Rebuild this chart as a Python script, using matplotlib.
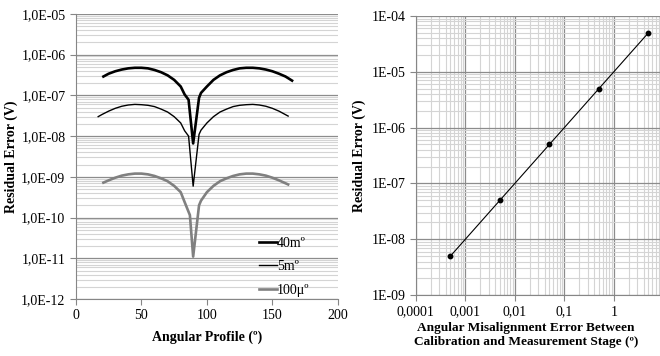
import numpy as np
import matplotlib.pyplot as plt
from matplotlib.ticker import LogLocator, FuncFormatter, NullFormatter, MultipleLocator

# left panel: residual error along the angular profile
ang_40m = [21, 25, 30, 35, 40, 45, 50, 55, 60, 65, 70, 75, 80, 83, 86, 89.5,
           94, 95.5, 100, 105, 110, 115, 120, 125, 130, 135, 140, 145, 150, 155, 160, 165]
err_40m = [2.9e-7, 3.4e-7, 3.9e-7, 4.3e-7, 4.6e-7, 4.75e-7, 4.75e-7, 4.6e-7, 4.2e-7, 3.7e-7,
           3.1e-7, 2.4e-7, 1.65e-7, 1.05e-7, 7.8e-8, 6.6e-9,
           8.7e-8, 1.15e-7, 1.65e-7, 2.4e-7, 3.1e-7, 3.7e-7, 4.2e-7, 4.6e-7, 4.75e-7, 4.75e-7,
           4.6e-7, 4.3e-7, 3.9e-7, 3.4e-7, 2.9e-7, 2.3e-7]

ang_5m = [17, 20, 25, 30, 35, 40, 45, 50, 55, 60, 65, 70, 75, 80, 83, 86, 89.5,
          94, 95.5, 100, 105, 110, 115, 120, 125, 130, 135, 140, 145, 150, 155, 162]
err_5m = [3.0e-8, 3.4e-8, 4.1e-8, 4.8e-8, 5.4e-8, 5.8e-8, 6.0e-8, 5.9e-8, 5.7e-8, 5.3e-8,
          4.6e-8, 3.9e-8, 3.0e-8, 2.1e-8, 1.35e-8, 1.0e-8, 5.9e-10,
          1.1e-8, 1.4e-8, 2.1e-8, 3.0e-8, 3.9e-8, 4.6e-8, 5.3e-8, 5.7e-8, 5.9e-8, 6.0e-8,
          5.8e-8, 5.4e-8, 4.8e-8, 4.1e-8, 3.1e-8]

ang_100u = [21, 25, 30, 35, 40, 45, 50, 55, 60, 65, 70, 75, 80, 83, 87, 89.5,
            94, 95.5, 100, 105, 110, 115, 120, 125, 130, 135, 140, 145, 150, 155, 162]
err_100u = [7.2e-10, 8.2e-10, 9.5e-10, 1.07e-9, 1.15e-9, 1.2e-9, 1.2e-9, 1.15e-9, 1.05e-9,
            9.2e-10, 7.8e-10, 6.0e-10, 4.2e-10, 2.4e-10, 1.15e-10, 1.1e-11,
            2.0e-10, 2.6e-10, 4.2e-10, 6.0e-10, 7.8e-10, 9.2e-10, 1.05e-9, 1.15e-9, 1.2e-9,
            1.2e-9, 1.15e-9, 1.07e-9, 9.5e-10, 8.2e-10, 6.5e-10]

# right panel: residual error vs misalignment
misalign = [0.0005, 0.005, 0.05, 0.5, 5]
resid = [5e-9, 5e-8, 5e-7, 5e-6, 5e-5]
x_ticks = [0.0001, 0.001, 0.01, 0.1, 1]
x_tick_labels = ["0,0001", "0,001", "0,01", "0,1", "1"]

MAJ = "#8c8c8c"
MIN = "#d4d4d4"
SPINE = "#868686"

plt.rcParams["font.family"] = ["Liberation Serif", "DejaVu Serif"]
plt.rcParams["font.size"] = 10


def style_axes(ax):
    for s in ("top", "right"):
        ax.spines[s].set_visible(False)
    for s in ("left", "bottom"):
        ax.spines[s].set_color(SPINE)
    ax.tick_params(which="both", colors=SPINE, labelcolor="black", labelsize=10)
    ax.tick_params(which="minor", length=0)
    ax.tick_params(which="major", length=4)
    ax.set_axisbelow(True)


fig = plt.figure(figsize=(6.6, 3.56), dpi=100)

# left panel
ax1 = fig.add_axes([0.115, 0.160, 0.397, 0.801])
ax1.plot(ang_40m, err_40m, color="black", lw=1.9, label="40m\u00ba")
ax1.plot(ang_5m, err_5m, color="black", lw=1.0, label="5m\u00ba")
ax1.plot(ang_100u, err_100u, color="#808080", lw=1.9, label="100\u03bc\u00ba")
ax1.set_yscale("log")
ax1.set_ylim(1e-12, 1e-5)
ax1.set_xlim(0, 200)
ax1.xaxis.set_major_locator(MultipleLocator(50))
ax1.yaxis.set_major_locator(LogLocator(base=10, numticks=20))
ax1.yaxis.set_minor_locator(LogLocator(base=10, subs=np.arange(2, 10), numticks=20))
ax1.yaxis.set_minor_formatter(NullFormatter())
ax1.yaxis.set_major_formatter(FuncFormatter(lambda v, p: "1,0E%+03d" % round(np.log10(v))))
ax1.grid(True, which="major", axis="y", color=MAJ, lw=0.9)
ax1.grid(True, which="minor", axis="y", color=MIN, lw=0.8)
style_axes(ax1)
ax1.set_xlabel("Angular Profile (\u00ba)", fontweight="bold", labelpad=6)
ax1.set_ylabel("Residual Error (V)", fontweight="bold", labelpad=2)
ax1.legend(loc="lower right", frameon=False, handlelength=1.3, handletextpad=0.0,
           labelspacing=0.75, fontsize=10, bbox_to_anchor=(0.94, -0.035))

# right panel
ax2 = fig.add_axes([0.630, 0.171, 0.375, 0.784])
ax2.plot(misalign, resid, color="black", lw=0.8, marker="o", ms=3.2)
ax2.set_xscale("log")
ax2.set_yscale("log")
ax2.set_xlim(1e-4, 10)
ax2.set_ylim(1e-9, 1e-4)
ax2.yaxis.set_major_locator(LogLocator(base=10, numticks=20))
ax2.yaxis.set_major_formatter(FuncFormatter(lambda v, p: "1E%+03d" % round(np.log10(v))))
ax2.set_xticks(x_ticks, x_tick_labels)
for axis in (ax2.xaxis, ax2.yaxis):
    axis.set_minor_locator(LogLocator(base=10, subs=np.arange(2, 10), numticks=20))
    axis.set_minor_formatter(NullFormatter())
ax2.grid(True, which="major", color=MAJ, lw=0.9)
ax2.grid(True, which="minor", color=MIN, lw=0.8)
ax2.axvline(10, color=MAJ, lw=0.9)
style_axes(ax2)
ax2.set_ylabel("Residual Error (V)", fontweight="bold", labelpad=4)
fig.text(526 / 660, 1 - 328 / 356, "Angular Misalignment Error Between",
         ha="center", va="center", fontweight="bold", fontsize=9.6)
fig.text(526 / 660, 1 - 342 / 356, "Calibration and Measurement Stage (\u00ba)",
         ha="center", va="center", fontweight="bold", fontsize=9.6)

fig.savefig("out.png", dpi=100, facecolor="white")
